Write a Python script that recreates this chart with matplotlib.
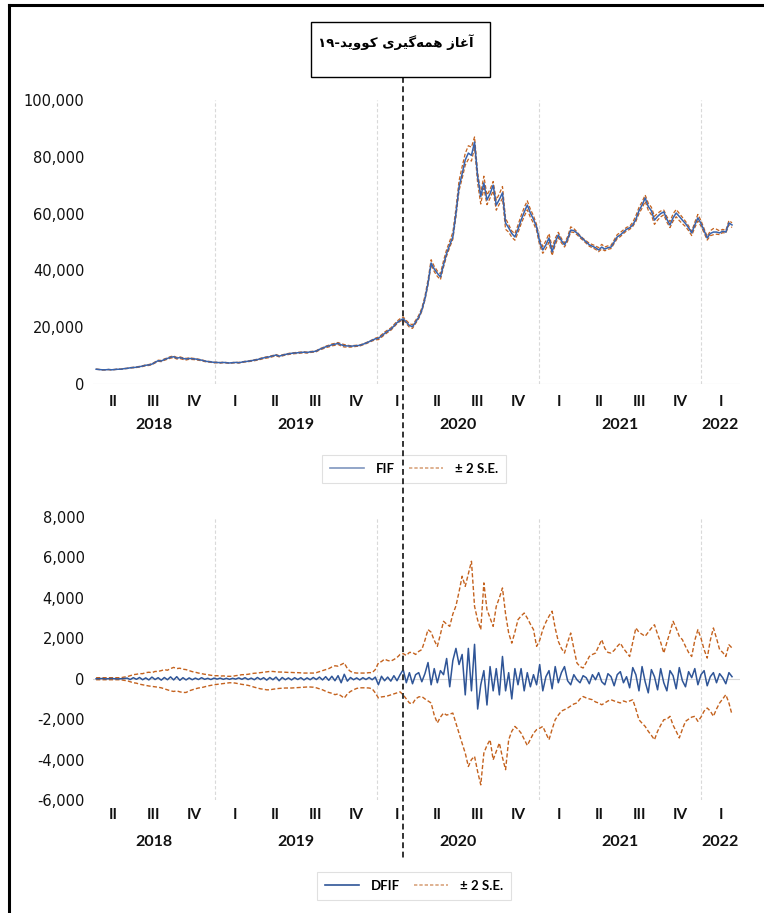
import matplotlib
matplotlib.use('Agg')
import matplotlib.pyplot as plt
import matplotlib.dates as mdates
from matplotlib.lines import Line2D
from matplotlib.patches import Rectangle
import matplotlib.transforms as mtransforms
import numpy as np
import pandas as pd

# weekly readings, in thousands, from 2018-04-08 onward
fif = [
    5.2, 5.1, 5.0, 5.0, 5.1, 5.0, 5.1, 5.2, 5.2, 5.4, 5.5, 5.7, 5.8,
    5.9, 6.1, 6.3, 6.6, 6.7, 7.0, 7.6, 8.2, 8.1, 8.6, 9.0, 9.4, 9.6,
    9.1, 9.3, 9.0, 8.8, 9.0, 8.9, 8.8, 8.6, 8.4, 8.1, 7.9, 7.8, 7.6,
    7.6, 7.5, 7.6, 7.5, 7.4, 7.5, 7.6, 7.5, 7.7, 7.9, 8.0, 8.2, 8.4,
    8.6, 8.9, 9.2, 9.4, 9.6, 9.9, 10.2, 9.8, 10.1, 10.4, 10.6, 10.8, 10.9,
    11.0, 11.1, 11.2, 11.1, 11.3, 11.4, 11.6, 12.2, 12.6, 13.1, 13.4, 13.8, 14.0,
    14.3, 13.8, 13.5, 13.4, 13.3, 13.4, 13.5, 13.6, 14.0, 14.4, 14.9, 15.4, 15.9,
    16.1, 16.9, 17.8, 18.6, 19.3, 20.4, 21.6, 22.4, 23.0, 21.8, 20.6, 20.2, 21.8,
    23.5, 26.0, 30.0, 35.5, 42.6, 40.5, 39.0, 37.7, 42.0, 46.0, 49.0, 51.8, 60.0,
    69.4, 74.0, 78.9, 81.3, 80.5, 85.2, 73.0, 66.0, 70.8, 64.8, 67.0, 70.0, 63.0,
    65.0, 67.3, 56.7, 55.0, 53.0, 51.8, 54.5, 57.7, 60.5, 63.0, 60.2, 58.0, 55.3,
    50.0, 47.2, 49.0, 51.4, 46.5, 50.0, 52.5, 50.5, 49.0, 51.0, 54.2, 54.0, 53.2,
    52.0, 51.0, 50.0, 49.0, 48.5, 48.0, 47.2, 48.2, 47.5, 48.0, 48.2, 50.0, 51.8,
    52.5, 53.5, 54.5, 55.0, 56.0, 58.0, 61.0, 63.0, 65.5, 62.5, 61.0, 57.7, 59.0,
    60.0, 60.6, 58.0, 56.0, 58.5, 60.2, 59.0, 57.7, 56.5, 55.0, 53.2, 56.0, 58.5,
    56.5, 54.0, 51.4, 53.0, 53.5, 53.5, 53.2, 53.8, 53.5, 56.7, 56.0,
]

dfif = [
    0.0, 0.0, 0.01, -0.01, 0.0, 0.01, 0.0, -0.01, 0.0, 0.01,
    0.03, -0.04, 0.05, -0.03, 0.06, -0.05, 0.04, -0.06, 0.08, -0.04, 0.05, -0.07, 0.06, -0.05, 0.09, -0.06,
    0.10, -0.08, 0.05, -0.06, 0.04, -0.05, 0.03, -0.04, 0.05, -0.03, 0.02, -0.04, 0.03,
    -0.02, 0.03, -0.03, 0.02, -0.03, 0.02, -0.02, 0.04, -0.03, 0.05, -0.04, 0.03, -0.05,
    0.06, -0.04, 0.05, -0.07, 0.06, -0.05, 0.08, -0.10, 0.06, -0.05, 0.04, -0.06, 0.05,
    -0.04, 0.05, -0.06, 0.04, -0.05, 0.06, -0.04, 0.08, -0.06, 0.10, -0.08, 0.12, -0.10,
    0.15, -0.20, 0.22, -0.12, 0.06, -0.05, 0.04, -0.06, 0.05, -0.04, 0.06, -0.05, 0.08,
    -0.30, 0.12, -0.10, 0.08, -0.12, 0.15, -0.10, 0.20, 0.45, -0.20, 0.30, -0.25, 0.20,
    0.30, -0.15, 0.25, 0.80, -0.30, 0.50, -0.20, 0.40, 0.20, 1.00, -0.40, 0.90, 1.50,
    0.70, 1.20, -0.80, 1.50, -0.60, 1.70, -1.50, -0.30, 0.40, -1.30, 0.60, -0.60, 0.50,
    -0.80, 1.10, -0.60, 0.30, -1.00, 0.50, -0.30, 0.50, -0.60, 0.30, -0.40, 0.20, -0.30,
    0.70, -0.60, 0.10, 0.40, -0.50, 0.60, -0.20, 0.30, 0.60, -0.10, -0.30, 0.20, -0.05,
    -0.20, 0.15, 0.05, -0.25, 0.20, -0.05, 0.30, -0.15, -0.30, 0.25, 0.10, -0.35, 0.20,
    0.35, -0.20, 0.10, -0.45, 0.55, 0.20, -0.60, 0.60, -0.15, -0.70, 0.45, 0.10, -0.55,
    0.50, -0.20, -0.60, 0.40, 0.15, -0.50, 0.55, -0.10, -0.40, 0.35, 0.05, 0.50, -0.30,
    0.20, 0.40, -0.35, 0.10, 0.30, -0.20, 0.25, 0.05, -0.25, 0.30, 0.10,
]

se_hi = [
    0.05, 0.05, 0.05, 0.05, 0.05, 0.05, 0.05, 0.05, 0.05, 0.08, 0.10, 0.15, 0.20,
    0.22, 0.25, 0.25, 0.30, 0.32, 0.30, 0.36, 0.36, 0.40, 0.45, 0.42, 0.50, 0.56,
    0.50, 0.52, 0.47, 0.45, 0.40, 0.35, 0.32, 0.28, 0.25, 0.22, 0.20, 0.17, 0.15,
    0.15, 0.13, 0.14, 0.12, 0.12, 0.12, 0.15, 0.17, 0.20, 0.20, 0.22, 0.25, 0.27,
    0.28, 0.30, 0.32, 0.34, 0.36, 0.36, 0.34, 0.33, 0.33, 0.32, 0.31, 0.31, 0.30,
    0.30, 0.29, 0.28, 0.28, 0.28, 0.28, 0.30, 0.35, 0.40, 0.45, 0.50, 0.58, 0.64,
    0.62, 0.70, 0.78, 0.50, 0.36, 0.30, 0.28, 0.28, 0.28, 0.28, 0.30, 0.30, 0.45,
    0.78, 0.85, 0.97, 0.90, 0.87, 0.95, 1.05, 1.20, 1.24, 1.15, 1.30, 1.30, 1.20,
    1.35, 1.44, 1.90, 2.43, 2.30, 1.90, 1.60, 2.20, 2.84, 2.70, 2.59, 3.20, 3.60,
    4.30, 5.07, 4.57, 5.20, 5.81, 3.58, 2.90, 2.43, 4.74, 3.42, 3.00, 2.59, 3.58,
    4.00, 4.49, 3.20, 2.26, 1.76, 2.30, 2.92, 3.10, 3.25, 3.00, 2.70, 2.43, 1.60,
    1.90, 2.43, 2.80, 3.09, 3.34, 2.50, 1.85, 1.50, 1.27, 1.80, 2.26, 1.50, 0.78,
    0.60, 0.53, 0.80, 1.10, 1.20, 1.27, 1.60, 1.93, 1.50, 1.30, 1.27, 1.40, 1.60,
    1.76, 1.50, 1.30, 1.10, 1.80, 2.51, 2.30, 2.20, 2.10, 2.30, 2.50, 2.67, 2.20,
    1.80, 1.27, 1.80, 2.30, 2.84, 2.50, 2.10, 1.93, 1.60, 1.30, 1.10, 1.90, 2.43,
    2.00, 1.44, 1.02, 1.90, 2.51, 2.00, 1.44, 1.30, 1.10, 1.68, 1.52,
]

se_lo = [
    -0.05, -0.05, -0.05, -0.05, -0.05, -0.05, -0.05, -0.05, -0.05, -0.08, -0.10, -0.15, -0.20,
    -0.22, -0.27, -0.30, -0.33, -0.36, -0.38, -0.40, -0.42, -0.45, -0.50, -0.55, -0.60, -0.63,
    -0.60, -0.65, -0.68, -0.68, -0.60, -0.55, -0.50, -0.46, -0.44, -0.40, -0.36, -0.33, -0.30,
    -0.28, -0.26, -0.24, -0.22, -0.20, -0.20, -0.22, -0.25, -0.28, -0.30, -0.33, -0.37, -0.42,
    -0.46, -0.50, -0.52, -0.55, -0.55, -0.52, -0.50, -0.48, -0.47, -0.46, -0.46, -0.46, -0.45,
    -0.44, -0.43, -0.42, -0.41, -0.41, -0.42, -0.45, -0.50, -0.55, -0.62, -0.68, -0.72, -0.79,
    -0.75, -0.85, -0.96, -0.75, -0.63, -0.55, -0.48, -0.45, -0.45, -0.45, -0.46, -0.50, -0.70,
    -0.95, -0.90, -0.88, -0.85, -0.80, -0.75, -0.70, -0.65, -0.80, -1.00, -1.20, -1.24, -1.00,
    -0.90, -0.88, -1.00, -1.10, -1.20, -1.80, -2.19, -1.90, -1.70, -1.80, -1.75, -1.70, -2.20,
    -2.69, -3.20, -3.68, -4.34, -4.00, -3.84, -4.60, -5.25, -3.68, -3.30, -3.02, -4.01, -3.60,
    -3.18, -3.90, -4.50, -3.02, -2.60, -2.36, -2.50, -2.69, -3.00, -3.30, -3.00, -2.70, -2.52,
    -2.45, -2.36, -2.70, -3.02, -2.50, -2.03, -1.80, -1.60, -1.53, -1.45, -1.35, -1.25, -1.20,
    -1.00, -0.88, -0.95, -1.00, -1.04, -1.15, -1.20, -1.29, -1.20, -1.10, -1.04, -1.10, -1.15,
    -1.20, -1.10, -1.15, -1.10, -1.04, -1.50, -2.03, -2.20, -2.36, -2.60, -2.80, -3.02, -2.60,
    -2.30, -2.03, -2.00, -1.86, -2.30, -2.60, -2.93, -2.50, -2.11, -2.00, -1.90, -1.86, -2.11,
    -1.90, -1.60, -1.45, -1.60, -1.86, -1.50, -1.20, -1.00, -0.79, -1.20, -1.78,
]

quarters = ['I', 'II', 'III', 'IV']
years = [2018, 2019, 2020, 2021, 2022]
covid_date = '2020-02-29'
covid_text = 'آغاز همه‌گیری کووید-۱۹'

# matplotlib has no Arabic shaping: same words in presentation forms, visual order
covid_visual = ('\u06F1\u06F9-'
                '\uFEAA\uFBFE\uFEED\uFEEE\uFB90 '
                '\uFBFC\uFEAE\uFBFF\uFB94\uFEEA\uFEE4\uFEEB '
                '\uFEAF\uFE8E\uFECF\uFE81')

dates = pd.date_range('2018-04-08', periods=len(fif), freq='7D')
fif_v = np.array(fif) * 1000
dfif_v = np.array(dfif) * 1000
hi_v = np.array(se_hi) * 1000
lo_v = np.array(se_lo) * 1000

blue = '#3863AC'
blue_dark = '#2F5597'
orange = '#C4621E'
grid_c = '#D9D9D9'

fig = plt.figure(figsize=(7.64, 9.13), dpi=100)
W, H = 764, 913

def px_axes(x0, y0, x1, y1):
    return fig.add_axes([x0 / W, 1 - y1 / H, (x1 - x0) / W, (y1 - y0) / H])

ax1 = px_axes(93, 100, 740, 384)
ax2 = px_axes(93, 517, 740, 800)

xmin = pd.Timestamp('2018-04-01')
xmax = pd.Timestamp('2022-03-31')

def style(ax, ylim, step, qy, yy):
    ax.set_xlim(xmin, xmax)
    ax.set_ylim(*ylim)
    ax.set_yticks(np.arange(ylim[0], ylim[1] + 1, step))
    ax.yaxis.set_major_formatter(matplotlib.ticker.FuncFormatter(lambda v, p: f'{v:,.0f}'))
    ax.tick_params(axis='y', length=0, pad=6, labelsize=10.5, labelcolor='#111111')
    ax.set_xticks([])
    for s in ax.spines.values():
        s.set_visible(False)
    ax.axhline(0, color=grid_c, lw=0.8, zorder=0)
    for yr in years[1:]:
        ax.axvline(pd.Timestamp(f'{yr}-01-01'), color=grid_c, lw=0.8, ls=(0, (3, 2)), zorder=0)
    tr = mtransforms.blended_transform_factory(ax.transData, ax.transAxes)
    q_start = pd.date_range(xmin, periods=16, freq='QS')
    for qs in q_start:
        qe = qs + pd.offsets.QuarterBegin(startingMonth=1)
        mid = qs + (qe - qs) / 2
        ax.text(mid, qy, quarters[qs.quarter - 1], transform=tr, ha='center', va='center',
                fontsize=11, family='Lato', fontweight='bold', color='#111111')
    for yr in years:
        a = max(pd.Timestamp(f'{yr}-01-01'), xmin)
        b = min(pd.Timestamp(f'{yr + 1}-01-01'), xmax)
        ax.text(a + (b - a) / 2, yy, str(yr), transform=tr, ha='center', va='center',
                fontsize=11.5, family='Lato', fontweight='bold', color='#111111')

style(ax1, (0, 100000), 20000, -0.063, -0.144)
style(ax2, (-6000, 8000), 2000, -0.053, -0.148)

dash = (0, (3, 1.6))
ax1.plot(dates, fif_v + hi_v / 2, color=orange, lw=0.9, ls=dash, zorder=2)
ax1.plot(dates, fif_v + lo_v / 2, color=orange, lw=0.9, ls=dash, zorder=2)
ax1.plot(dates, fif_v, color=blue, lw=1.1, zorder=3)

ax2.plot(dates, hi_v, color=orange, lw=1.0, ls=dash, zorder=2)
ax2.plot(dates, lo_v, color=orange, lw=1.0, ls=dash, zorder=2)
ax2.plot(dates, dfif_v, color=blue_dark, lw=1.1, zorder=3)

# legends
leg_font = {'family': 'Lato', 'weight': 'bold', 'size': 9.5}
for top_y, name, col in [(469, 'FIF', '#7F96BF'), (886, 'DFIF', blue_dark)]:
    handles = [Line2D([], [], color=col, lw=1.2),
               Line2D([], [], color='#D9A47E', lw=1.2, ls=(0, (2, 1.2)))]
    lg = fig.legend(handles, [name, '± 2 S.E.'], loc='center', ncol=2,
                    bbox_to_anchor=(414 / W, 1 - top_y / H), prop=leg_font,
                    frameon=True, fancybox=False, edgecolor='#D9D9D9',
                    handlelength=2.6, handletextpad=0.9, columnspacing=1.0, borderpad=0.6)
    lg.get_frame().set_linewidth(0.8)

# covid marker line across both panels
x_disp = ax1.transData.transform((mdates.date2num(pd.Timestamp(covid_date)), 0))[0]
x_fig = fig.transFigure.inverted().transform((x_disp, 0))[0]
fig.add_artist(Line2D([x_fig, x_fig], [1 - 77 / H, 1 - 858 / H], transform=fig.transFigure,
                      color='#333333', lw=1.4, ls=(0, (3, 1.8)), zorder=10))
fig.add_artist(Rectangle((311 / W, 1 - 77 / H), 179 / W, 55 / H, transform=fig.transFigure,
                         facecolor='white', edgecolor='black', lw=1.0, zorder=11))
fig.text(396 / W, 1 - 42 / H, covid_visual, ha='center', va='center', fontsize=9.6,
         family=['DejaVu Sans'], fontweight='bold', zorder=12)

# outer frame (top and left edges)
fig.add_artist(Line2D([9 / W, 1.0], [1 - 5 / H, 1 - 5 / H], transform=fig.transFigure,
                      color='black', lw=2.2))
fig.add_artist(Line2D([9 / W, 9 / W], [1 - 5 / H, 0], transform=fig.transFigure,
                      color='black', lw=2.2))

fig.savefig('out.png', dpi=100)
